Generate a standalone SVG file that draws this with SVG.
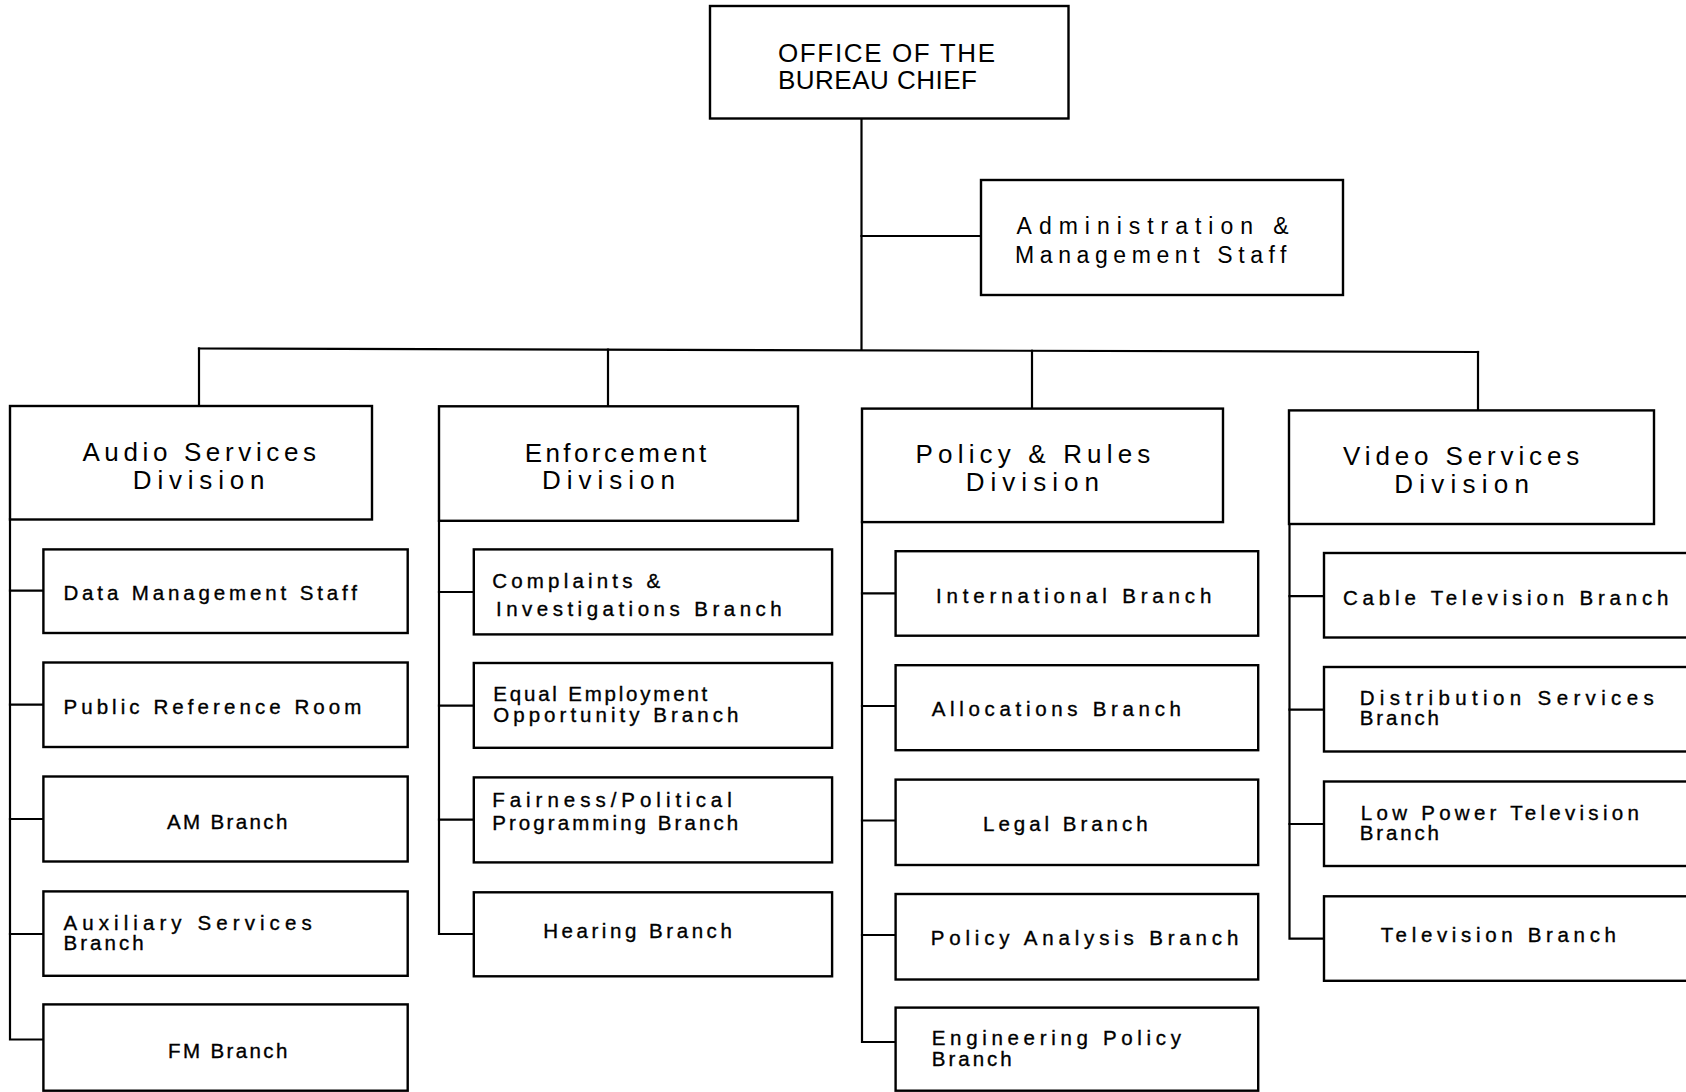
<svg xmlns="http://www.w3.org/2000/svg" width="1686" height="1092" viewBox="0 0 1686 1092">
  <style>
    .box { fill: #fff; stroke: #000; stroke-width: 2.4; }
    .conn { fill: none; stroke: #000; stroke-width: 2.2; stroke-linecap: square; }
    text { font-family: "Liberation Sans", Arial, sans-serif; fill: #000; }
    .top { font-size: 26px; }
    .div { font-size: 26px; }
    .adm { font-size: 23px; }
    .br { font-size: 20.5px; stroke: #000; stroke-width: 0.35; }
  </style>
  <rect width="1686" height="1092" fill="#fff"/>

  <!-- connectors -->
  <g id="connectors" class="conn">
    <!-- trunk, staff link and division bus -->
    <path d="M861.5,118 V349.5"/>
    <path d="M861.5,236 H981"/>
    <path d="M199,348.5 L1478,352"/>
    <path d="M199,348.5 V406"/>
    <path d="M608,349.6 V406.3"/>
    <path d="M1032,350.8 V408.6"/>
    <path d="M1478,352 V410.4"/>
    <!-- Audio Services spine -->
    <path d="M10,519 V1039.5 H43.4"/>
    <path d="M10,590.7 H43.4 M10,704.7 H43.4 M10,819 H43.4 M10,934 H43.4"/>
    <!-- Enforcement spine -->
    <path d="M439,520.8 V934 H473.8"/>
    <path d="M439,592 H473.8 M439,705.6 H473.8 M439,819.6 H473.8"/>
    <!-- Policy & Rules spine -->
    <path d="M862,522 V1042 H895.6"/>
    <path d="M862,593.4 H895.6 M862,706 H895.6 M862,820.5 H895.6 M862,935 H895.6"/>
    <!-- Video Services spine -->
    <path d="M1289.5,524 V938.6 H1324"/>
    <path d="M1289.5,596.2 H1324 M1289.5,709.7 H1324 M1289.5,824 H1324"/>
  </g>

  <!-- top level -->
  <g id="bureau-chief">
    <rect class="box" x="710" y="6" width="358.5" height="112.5"/>
    <text class="top" x="778" y="61.5" textLength="217" lengthAdjust="spacing">OFFICE OF THE</text>
    <text class="top" x="778" y="89" textLength="199" lengthAdjust="spacing">BUREAU CHIEF</text>
  </g>
  <g id="admin-staff">
    <rect class="box" x="981" y="180" width="362" height="115"/>
    <text class="adm" x="1016.6" y="233.5" textLength="272" lengthAdjust="spacing">Administration &amp;</text>
    <text class="adm" x="1015" y="263" textLength="271.5" lengthAdjust="spacing">Management Staff</text>
  </g>

  <!-- divisions -->
  <g id="audio-division">
    <rect class="box" x="10" y="406" width="362" height="113.5"/>
    <text class="div" x="82.4" y="461" textLength="233.6" lengthAdjust="spacing">Audio Services</text>
    <text class="div" x="132.8" y="489" textLength="131.7" lengthAdjust="spacing">Division</text>
  </g>
  <g id="enforcement-division">
    <rect class="box" x="439" y="406.3" width="359" height="114.5"/>
    <text class="div" x="524.7" y="461.7" textLength="181.6" lengthAdjust="spacing">Enforcement</text>
    <text class="div" x="542" y="489" textLength="133" lengthAdjust="spacing">Division</text>
  </g>
  <g id="policy-division">
    <rect class="box" x="862" y="408.6" width="361" height="113.5"/>
    <text class="div" x="915.6" y="463" textLength="234.7" lengthAdjust="spacing">Policy &amp; Rules</text>
    <text class="div" x="965.7" y="491.3" textLength="133.3" lengthAdjust="spacing">Division</text>
  </g>
  <g id="video-division">
    <rect class="box" x="1289" y="410.4" width="365" height="113.6"/>
    <text class="div" x="1343" y="465" textLength="236.3" lengthAdjust="spacing">Video Services</text>
    <text class="div" x="1394.2" y="492.6" textLength="134.8" lengthAdjust="spacing">Division</text>
  </g>

  <!-- Audio Services branches -->
  <g id="data-management-staff">
    <rect class="box" x="43.4" y="549.4" width="364.3" height="83.6"/>
    <text class="br" x="63.4" y="600.3" textLength="293.5" lengthAdjust="spacing">Data Management Staff</text>
  </g>
  <g id="public-reference-room">
    <rect class="box" x="43.4" y="662.5" width="364.3" height="84.5"/>
    <text class="br" x="63.4" y="713.8" textLength="298" lengthAdjust="spacing">Public Reference Room</text>
  </g>
  <g id="am-branch">
    <rect class="box" x="43.4" y="776.5" width="364.3" height="85"/>
    <text class="br" x="167" y="828.7" textLength="120.3" lengthAdjust="spacing">AM Branch</text>
  </g>
  <g id="auxiliary-services-branch">
    <rect class="box" x="43.4" y="891.4" width="364.3" height="84.4"/>
    <text class="br" x="63.4" y="929.5" textLength="248.3" lengthAdjust="spacing">Auxiliary Services</text>
    <text class="br" x="63.4" y="950" textLength="80.3" lengthAdjust="spacing">Branch</text>
  </g>
  <g id="fm-branch">
    <rect class="box" x="43.4" y="1004.4" width="364.3" height="86.3"/>
    <text class="br" x="168" y="1057.6" textLength="119.3" lengthAdjust="spacing">FM Branch</text>
  </g>

  <!-- Enforcement branches -->
  <g id="complaints-branch">
    <rect class="box" x="473.8" y="549.4" width="358.3" height="85"/>
    <text class="br" x="492.2" y="588" textLength="168" lengthAdjust="spacing">Complaints &amp;</text>
    <text class="br" x="496" y="616" textLength="285.7" lengthAdjust="spacing">Investigations Branch</text>
  </g>
  <g id="eeo-branch">
    <rect class="box" x="473.8" y="663" width="358.3" height="84.8"/>
    <text class="br" x="493.3" y="701" textLength="214" lengthAdjust="spacing">Equal Employment</text>
    <text class="br" x="493.3" y="721.5" textLength="245" lengthAdjust="spacing">Opportunity Branch</text>
  </g>
  <g id="fairness-branch">
    <rect class="box" x="473.8" y="777.4" width="358.3" height="85"/>
    <text class="br" x="492.2" y="807" textLength="239.6" lengthAdjust="spacing">Fairness/Political</text>
    <text class="br" x="492.2" y="829.6" textLength="246" lengthAdjust="spacing">Programming Branch</text>
  </g>
  <g id="hearing-branch">
    <rect class="box" x="473.8" y="892.3" width="358.3" height="84"/>
    <text class="br" x="543.2" y="937.7" textLength="188.6" lengthAdjust="spacing">Hearing Branch</text>
  </g>

  <!-- Policy & Rules branches -->
  <g id="international-branch">
    <rect class="box" x="895.6" y="551.2" width="362.6" height="84.5"/>
    <text class="br" x="936" y="603.4" textLength="275.3" lengthAdjust="spacing">International Branch</text>
  </g>
  <g id="allocations-branch">
    <rect class="box" x="895.6" y="665.2" width="362.6" height="85"/>
    <text class="br" x="931.7" y="716" textLength="249.3" lengthAdjust="spacing">Allocations Branch</text>
  </g>
  <g id="legal-branch">
    <rect class="box" x="895.6" y="779.6" width="362.6" height="85.4"/>
    <text class="br" x="983" y="831" textLength="164.6" lengthAdjust="spacing">Legal Branch</text>
  </g>
  <g id="policy-analysis-branch">
    <rect class="box" x="895.6" y="894" width="362.6" height="85.5"/>
    <text class="br" x="930.7" y="945.4" textLength="307.6" lengthAdjust="spacing">Policy Analysis Branch</text>
  </g>
  <g id="engineering-policy-branch">
    <rect class="box" x="895.6" y="1007.6" width="362.6" height="83.1"/>
    <text class="br" x="931.7" y="1045.3" textLength="249.3" lengthAdjust="spacing">Engineering Policy</text>
    <text class="br" x="931.7" y="1065.7" textLength="80" lengthAdjust="spacing">Branch</text>
  </g>

  <!-- Video Services branches (boxes run past the right edge) -->
  <g id="cable-television-branch">
    <rect class="box" x="1324" y="553" width="380" height="84.5"/>
    <text class="br" x="1343" y="604.8" textLength="325.4" lengthAdjust="spacing">Cable Television Branch</text>
  </g>
  <g id="distribution-services-branch">
    <rect class="box" x="1324" y="667" width="380" height="84.5"/>
    <text class="br" x="1359.7" y="704.7" textLength="294" lengthAdjust="spacing">Distribution Services</text>
    <text class="br" x="1359.7" y="725" textLength="79.3" lengthAdjust="spacing">Branch</text>
  </g>
  <g id="low-power-television-branch">
    <rect class="box" x="1324" y="781.5" width="380" height="84.5"/>
    <text class="br" x="1360.8" y="819.6" textLength="278" lengthAdjust="spacing">Low Power Television</text>
    <text class="br" x="1359.7" y="840" textLength="79.3" lengthAdjust="spacing">Branch</text>
  </g>
  <g id="television-branch">
    <rect class="box" x="1324" y="896.3" width="380" height="84.5"/>
    <text class="br" x="1380.7" y="941.8" textLength="235.3" lengthAdjust="spacing">Television Branch</text>
  </g>
</svg>
